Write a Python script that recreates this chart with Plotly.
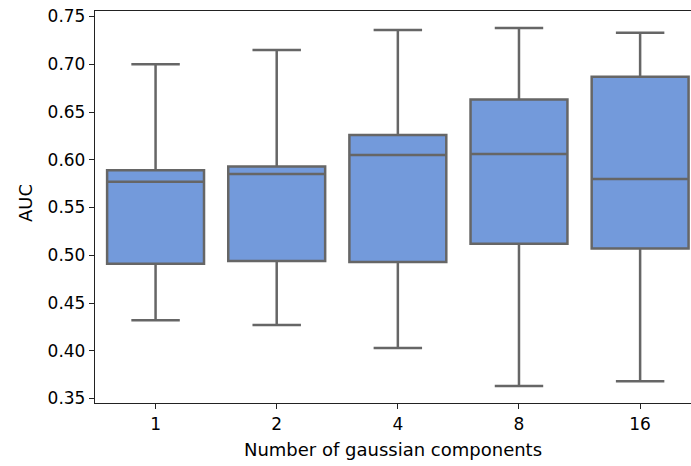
import plotly.graph_objects as go

# AUC distribution per number of gaussian components (box statistics)
components = ["1", "2", "4", "8", "16"]
auc_lower = [0.432, 0.427, 0.403, 0.363, 0.368]
auc_q1 = [0.491, 0.494, 0.493, 0.512, 0.507]
auc_median = [0.577, 0.585, 0.605, 0.606, 0.580]
auc_q3 = [0.589, 0.593, 0.626, 0.663, 0.687]
auc_upper = [0.700, 0.715, 0.736, 0.738, 0.733]
y_ticks = [0.35, 0.40, 0.45, 0.50, 0.55, 0.60, 0.65, 0.70, 0.75]

fig = go.Figure()
fig.add_trace(go.Box(
    x=components,
    q1=auc_q1,
    median=auc_median,
    q3=auc_q3,
    lowerfence=auc_lower,
    upperfence=auc_upper,
    width=0.8,
    whiskerwidth=0.5,
    fillcolor="#739ADB",
    line=dict(color="#666666", width=2.5),
    boxpoints=False,
    hoverinfo="skip",
))

font = dict(family="DejaVu Sans", size=17, color="black")
title_font = dict(family="DejaVu Sans", size=18, color="black")
fig.update_layout(
    width=691,
    height=466,
    margin=dict(l=95, r=0, t=11, b=63),
    paper_bgcolor="white",
    plot_bgcolor="white",
    showlegend=False,
    font=font,
    xaxis=dict(
        type="category",
        range=[-0.5, 4.42],
        showline=True,
        linecolor="#222222",
        linewidth=1.3,
        mirror=True,
        ticks="outside",
        ticklen=5,
        tickcolor="#222222",
        showgrid=False,
        zeroline=False,
        tickfont=font,
        title=dict(text="Number of gaussian components", font=title_font, standoff=10),
    ),
    yaxis=dict(
        range=[0.3453, 0.7558],
        tickvals=y_ticks,
        ticktext=[f"{v:.2f}" for v in y_ticks],
        showline=True,
        linecolor="#222222",
        linewidth=1.3,
        ticks="outside",
        ticklen=5,
        tickcolor="#222222",
        showgrid=False,
        zeroline=False,
        tickfont=font,
    ),
    annotations=[dict(
        text="AUC",
        font=title_font,
        textangle=-90,
        xref="paper", yref="paper",
        x=-0.1174, y=0.51,
        xanchor="center", yanchor="middle",
        showarrow=False,
    )],
)

fig.write_html("out.html")
